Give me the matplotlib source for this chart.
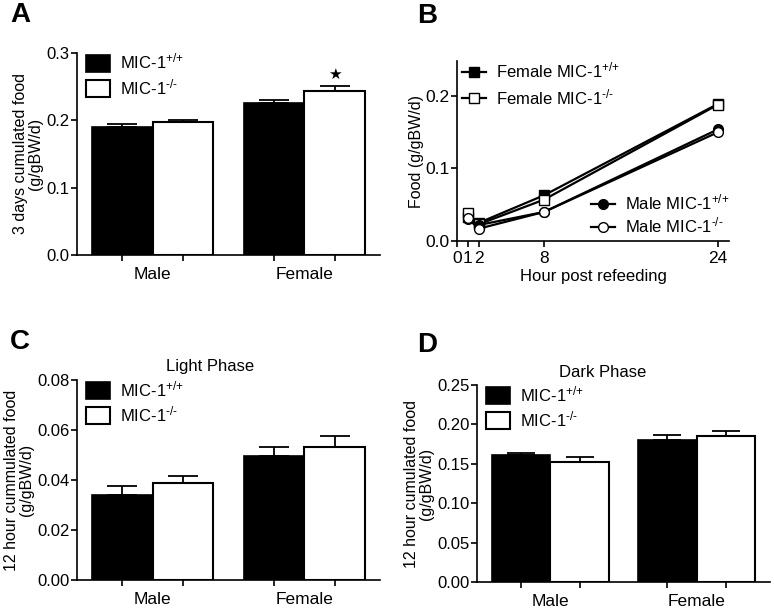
import numpy as np
import matplotlib
matplotlib.use('Agg')
import matplotlib.pyplot as plt
from matplotlib.patches import Patch

plt.rcParams['font.family'] = ['Liberation Sans', 'DejaVu Sans']
plt.rcParams['font.size'] = 12
plt.rcParams['mathtext.fontset'] = 'custom'
plt.rcParams['mathtext.rm'] = 'Liberation Sans'
plt.rcParams['mathtext.default'] = 'regular'
plt.rcParams['axes.linewidth'] = 1.2
plt.rcParams['xtick.major.width'] = 1.2
plt.rcParams['ytick.major.width'] = 1.2
plt.rcParams['xtick.major.size'] = 4
plt.rcParams['ytick.major.size'] = 4
plt.rcParams['ytick.major.pad'] = 1.5

# data
groups = ['Male', 'Female']
lbl_wt = r'MIC-1$^{\text{+/+}}$'
lbl_ko = r'MIC-1$^{\text{-/-}}$'

# A: 3 days cumulated food
a_wt = [0.190, 0.225]
a_wt_err = [0.005, 0.005]
a_ko = [0.197, 0.244]
a_ko_err = [0.004, 0.007]

# B: time course
hours = [1, 2, 8, 24]
f_wt = [0.033, 0.025, 0.063, 0.189]
f_ko = [0.038, 0.023, 0.057, 0.188]
m_wt = [0.030, 0.022, 0.040, 0.154]
m_ko = [0.031, 0.017, 0.040, 0.150]

# C: light phase
c_wt = [0.034, 0.0497]
c_wt_err = [0.0037, 0.0036]
c_ko = [0.039, 0.0532]
c_ko_err = [0.0028, 0.0046]

# D: dark phase
d_wt = [0.161, 0.180]
d_wt_err = [0.003, 0.006]
d_ko = [0.152, 0.185]
d_ko_err = [0.006, 0.006]

W, H = 774, 608
fig = plt.figure(figsize=(W / 100, H / 100), dpi=100)


def px_axes(l, t, r, b):
    return fig.add_axes([l / W, 1 - b / H, (r - l) / W, (b - t) / H])


def style(ax):
    ax.spines['top'].set_visible(False)
    ax.spines['right'].set_visible(False)
    ax.tick_params(direction='out')


def bar_panel(ax, wt, wt_err, ko, ko_err, ylim, yticks, fmt, ylabel, capsize=11):
    w = 0.4
    x = np.arange(len(groups))
    ekw = dict(elinewidth=1.3, capthick=1.3, ecolor='black')
    ax.bar(x - w / 2, wt, w, color='black', edgecolor='black', linewidth=1.2,
           yerr=[np.zeros(len(wt)), wt_err], capsize=capsize, error_kw=ekw)
    ax.bar(x + w / 2, ko, w, color='white', edgecolor='black', linewidth=1.5,
           yerr=[np.zeros(len(ko)), ko_err], capsize=capsize, error_kw=ekw)
    ax.set_xlim(-0.5, 1.5)
    ax.set_ylim(*ylim)
    ax.set_yticks(yticks)
    ax.set_yticklabels([fmt.format(v) for v in yticks], fontsize=12)
    ax.set_xticks(np.concatenate([x - w / 2, x + w / 2]))
    ax.set_xticklabels([])
    ax.set_xticks(x, minor=True)
    ax.set_xticklabels(groups, minor=True, fontsize=12.5)
    ax.tick_params(axis='x', which='minor', length=0, pad=9)
    ax.set_ylabel(ylabel, fontsize=11.5, linespacing=1.0, labelpad=2)
    style(ax)
    handles = [Patch(facecolor='black', edgecolor='black', linewidth=1.2),
               Patch(facecolor='white', edgecolor='black', linewidth=1.5)]
    ax.legend(handles, [lbl_wt, lbl_ko], loc='upper left', bbox_to_anchor=(0.03, 1.005),
              frameon=False, fontsize=12, handlelength=1.45, handleheight=1.15,
              labelspacing=0.32, handletextpad=0.6, borderpad=0, borderaxespad=0)
    return x, w


# A
axA = px_axes(77, 53, 380, 255)
x, w = bar_panel(axA, a_wt, a_wt_err, a_ko, a_ko_err, (0, 0.3), [0.0, 0.1, 0.2, 0.3], '{:.1f}',
                 '3 days cumulated food\n(g/gBW/d)')
axA.text(x[1] + w / 2, a_ko[1] + a_ko_err[1] + 0.017, '★', ha='center', va='center',
         fontsize=11, family='DejaVu Sans')

# B
axB = px_axes(457, 61, 729, 241)
axB.plot(hours, f_wt, '-s', color='black', lw=1.6, ms=7, mfc='black', label='Female ' + lbl_wt)
axB.plot(hours, f_ko, '-s', color='black', lw=1.6, ms=7, mfc='white', label='Female ' + lbl_ko)
axB.plot(hours, m_wt, '-o', color='black', lw=1.6, ms=7, mfc='black', label='Male ' + lbl_wt)
axB.plot(hours, m_ko, '-o', color='black', lw=1.6, ms=7, mfc='white', label='Male ' + lbl_ko)
axB.set_xlim(0, 25)
axB.set_ylim(0, 0.248)
axB.set_xticks([0, 1, 2, 8, 24])
axB.set_xticklabels(['0', '1', '2', '8', '24'], fontsize=12.5)
axB.set_yticks([0.0, 0.1, 0.2])
axB.set_yticklabels(['0.0', '0.1', '0.2'], fontsize=12.5)
axB.set_xlabel('Hour post refeeding', fontsize=12, labelpad=2)
axB.set_ylabel('Food (g/gBW/d)', fontsize=11.5, labelpad=1)
style(axB)
hB = axB.get_lines()
legF = axB.legend(hB[:2], [l.get_label() for l in hB[:2]], loc='upper left',
                  bbox_to_anchor=(0.02, 1.0), frameon=False, fontsize=12,
                  handlelength=1.4, handletextpad=0.6, labelspacing=0.38,
                  borderpad=0, borderaxespad=0)
axB.add_artist(legF)
axB.legend(hB[2:], [l.get_label() for l in hB[2:]], loc='lower right',
           bbox_to_anchor=(1.0, 0.03), frameon=False, fontsize=12,
           handlelength=1.4, handletextpad=0.6, labelspacing=0.2,
           borderpad=0, borderaxespad=0)

# C
axC = px_axes(77, 380, 380, 580)
bar_panel(axC, c_wt, c_wt_err, c_ko, c_ko_err, (0, 0.08), [0.0, 0.02, 0.04, 0.06, 0.08], '{:.2f}',
          '12 hour cummulated food\n(g/gBW/d)')
axC.text(0.44, 1.065, 'Light Phase', transform=axC.transAxes, ha='center', va='center', fontsize=12)

# D
axD = px_axes(477, 385, 770, 582)
bar_panel(axD, d_wt, d_wt_err, d_ko, d_ko_err, (0, 0.25), [0.0, 0.05, 0.10, 0.15, 0.20, 0.25],
          '{:.2f}', '12 hour cumulated food\n(g/gBW/d)', capsize=10)
axD.text(0.43, 1.065, 'Dark Phase', transform=axD.transAxes, ha='center', va='center', fontsize=12)

# panel letters
for letter, px, py in [('A', 10, 15), ('B', 417, 16), ('C', 10, 342), ('D', 417, 345)]:
    fig.text(px / W, 1 - py / H, letter, fontsize=20, fontweight='bold', ha='left', va='center')

fig.savefig('out.png', dpi=100)
